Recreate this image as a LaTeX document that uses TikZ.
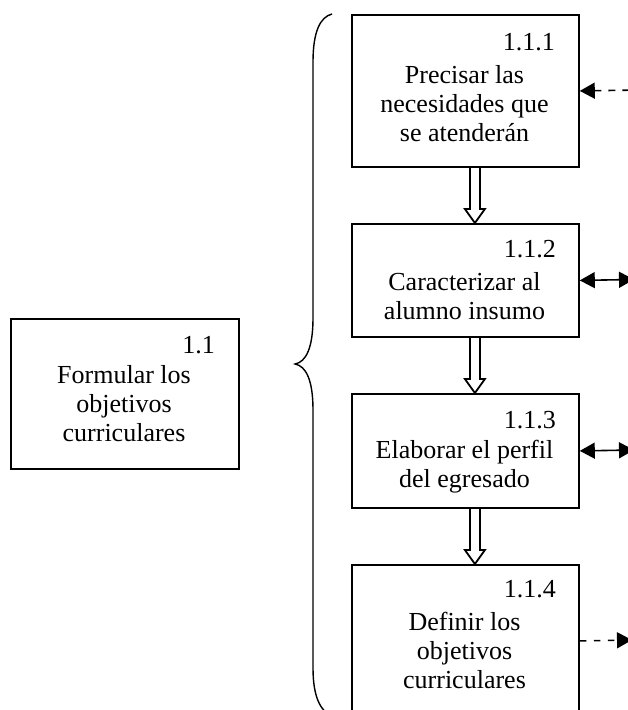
\documentclass[tikz,border=0pt]{standalone}
\usepackage{fontspec}
\setmainfont{Liberation Serif}
\usetikzlibrary{arrows.meta,calc}
\tikzset{myhead/.tip={Triangle[length=15pt,width=16pt]}}
\begin{document}
\begin{tikzpicture}[x=1pt,y=-1pt,
  box/.style={draw, line width=1.8pt, inner sep=0pt, anchor=north west},
  num/.style={anchor=base east, inner sep=0pt, font=\fontsize{26}{29}\selectfont},
  txt/.style={anchor=base, inner sep=0pt, font=\fontsize{26}{29}\selectfont},
  flow/.style={line width=1.8pt, line join=miter,
    to path={let \p1=(\tikztostart), \p2=(\tikztotarget) in
      (\x1-5pt,\y1) -- (\x1-5pt,\y2+14pt) -- (\x1-10pt,\y2+14pt) -- (\x2,\y2)
      -- (\x1+10pt,\y2+14pt) -- (\x1+5pt,\y2+14pt) -- (\x1+5pt,\y1)}},
  link/.style={line width=1.6pt},
  dlink/.style={line width=1.6pt, dash pattern=on 7pt off 7pt},
  bracket/.style={line width=1.4pt}]
\useasboundingbox (0,0) rectangle (628,710);
\clip (0,0) rectangle (628,710);

% main activity
\node[box, minimum width=228pt, minimum height=150pt] (m) at (10,318) {};
\node[num] (mn) at (215,353) {1.1};
\node[txt] (mt) at (124,383) {\begin{tabular}[t]{@{}c@{}}Formular los\\objetivos\\curriculares\end{tabular}};

% sub-activities
\node[box, minimum width=227pt, minimum height=152pt] (b1) at (351,14) {};
\node[num] (n1) at (555,50) {1.1.1};
\node[txt] (t1) at (464.5,83) {\begin{tabular}[t]{@{}c@{}}Precisar las\\necesidades que\\se atenderán\end{tabular}};

\node[box, minimum width=227pt, minimum height=113pt] (b2) at (351,223) {};
\node[num] (n2) at (556,257) {1.1.2};
\node[txt] (t2) at (464.5,290) {\begin{tabular}[t]{@{}c@{}}Caracterizar al\\alumno insumo\end{tabular}};

\node[box, minimum width=227pt, minimum height=114pt] (b3) at (351,393) {};
\node[num] (n3) at (556,428) {1.1.3};
\node[txt] (t3) at (464.5,458) {\begin{tabular}[t]{@{}c@{}}Elaborar el perfil\\del egresado\end{tabular}};

\node[box, minimum width=227pt, minimum height=152pt] (b4) at (351,564) {};
\node[num] (n4) at (556,597) {1.1.4};
\node[txt] (t4) at (464.5,630) {\begin{tabular}[t]{@{}c@{}}Definir los\\objetivos\\curriculares\end{tabular}};

% hollow flow arrows between consecutive steps
\draw[flow] ($(b1.south)+(9.5,0)$) to ($(b2.north)+(9.5,0)$);
\draw[flow] ($(b2.south)+(9.5,0)$) to ($(b3.north)+(9.5,0)$);
\draw[flow] ($(b3.south)+(9.5,0)$) to ($(b4.north)+(9.5,0)$);

% links leaving to the right
\coordinate (e1) at (640,90);
\coordinate (e2) at (634,279.5);
\coordinate (e3) at (634,450);
\coordinate (e4) at (632,640);
\draw[dlink, myhead-] (b1.east) -- (e1);
\draw[link, myhead-myhead] (b2.east) -- (e2);
\draw[link, myhead-myhead] (b3.east) -- (e3);
\draw[dlink, -myhead, dash pattern=on 6.5pt off 7.5pt] (b4.east) -- (e4);

% curly brace grouping the steps
\draw[bracket] (332,14) .. controls (320,17) and (313,32) .. (313,62)
  -- (313,318) .. controls (313,348) and (306,362) .. (295,364)
  .. controls (306,366) and (313,380) .. (313,410)
  -- (313,668) .. controls (313,696) and (320,711) .. (332,716);
\end{tikzpicture}
\end{document}
